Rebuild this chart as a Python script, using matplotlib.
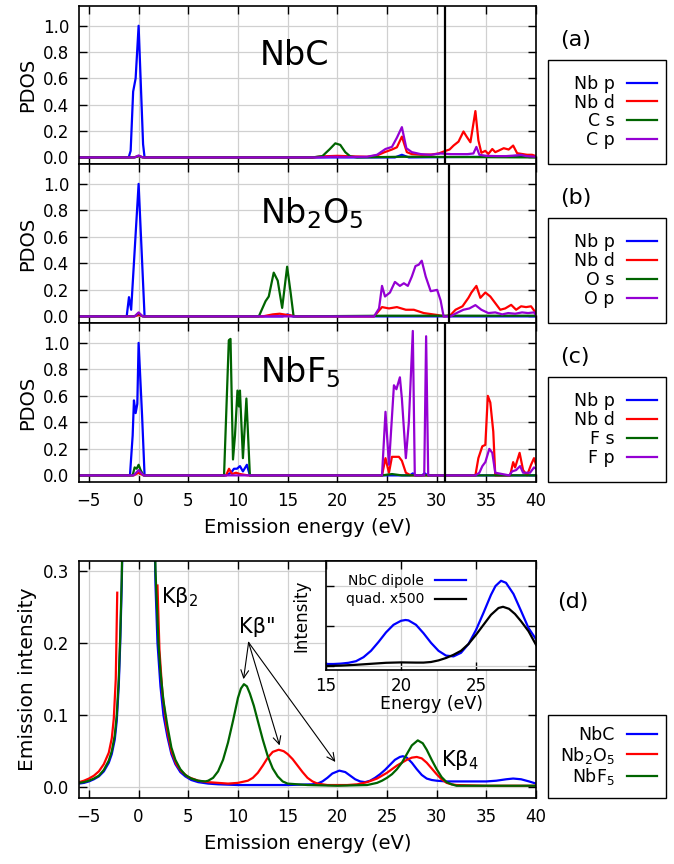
import matplotlib
matplotlib.use("Agg")
import matplotlib.pyplot as plt
from matplotlib.patches import Rectangle
import numpy as np

W, H = 674, 864

energy_ticks = [-5, 0, 5, 10, 15, 20, 25, 30, 35, 40]
pdos_ticks = [0.0, 0.2, 0.4, 0.6, 0.8, 1.0]
emission_ticks = [0.0, 0.1, 0.2, 0.3]
inset_xticks = [15, 20, 25]
inset_yticks = [0, 1, 2]

# (a) NbC
nbc_nbp_e = [-6, -1.0, -0.8, -0.55, -0.3, 0.0, 0.2, 0.45, 0.6, 25.8, 26.5, 27.2, 35, 36, 37, 38, 39, 40]
nbc_nbp = [0, 0, 0.05, 0.5, 0.6, 1.0, 0.6, 0.1, 0, 0, 0.02, 0, 0.005, 0.01, 0.005, 0.012, 0.008, 0.005]
nbc_nbd_e = [-6, -0.5, 0, 0.5, 17.5, 18.5, 20, 21.5, 23, 24, 24.7, 25.5, 26.0, 26.5, 27.0, 27.5, 28.5, 29.5,
             30.2, 30.9, 31.3, 31.7, 32.2, 32.7, 33.0, 33.4, 33.9, 34.2, 34.5, 34.9, 35.2, 35.6, 35.9, 36.2,
             36.75, 37.25, 37.7, 38.1, 38.6, 39.1, 39.6, 40]
nbc_nbd = [0, 0, 0.01, 0, 0, 0.008, 0.012, 0.008, 0.005, 0.015, 0.038, 0.06, 0.077, 0.158, 0.04, 0.025, 0.02, 0.022,
           0.03, 0.05, 0.06, 0.09, 0.12, 0.197, 0.16, 0.115, 0.352, 0.13, 0.035, 0.05, 0.026, 0.064, 0.04, 0.05,
           0.07, 0.06, 0.09, 0.032, 0.026, 0.02, 0.02, 0.01]
nbc_cs_e = [-6, -0.4, 0, 0.4, 17.5, 18.5, 19.2, 19.8, 20.3, 20.8, 21.3, 22, 26.5, 40]
nbc_cs = [0, 0, 0.01, 0, 0, 0.01, 0.06, 0.107, 0.095, 0.04, 0.008, 0, 0.005, 0]
nbc_cp_e = [-6, -0.4, 0, 0.4, 18, 19.5, 21, 23, 24, 24.85, 25.5, 26.0, 26.5, 26.95, 27.5, 28.4, 29.4, 30.4,
            31.4, 33.1, 33.7, 34.0, 34.3, 35, 36, 37, 38, 38.5, 39, 40]
nbc_cp = [0, 0, 0.015, 0, 0, 0.005, 0.003, 0.005, 0.02, 0.064, 0.08, 0.15, 0.23, 0.07, 0.04, 0.025, 0.02, 0.03,
          0.025, 0.025, 0.03, 0.08, 0.02, 0.012, 0.01, 0.01, 0.015, 0.02, 0.01, 0.005]

# (b) Nb2O5
nbo_nbp_e = [-6, -1.2, -0.97, -0.75, 0, 0.6, 14.5, 15, 15.5, 40]
nbo_nbp = [0, 0, 0.145, 0.05, 1.0, 0, 0, 0.015, 0, 0]
nbo_nbd_e = [-6, -0.5, 0, 0.5, 12.5, 13.5, 14.2, 15, 16, 23.7, 24.5, 25.2, 26.0, 26.9, 27.7, 28.7, 30.1, 30.8,
             31.4, 31.9, 32.6, 33.2, 33.5, 34.0, 34.4, 34.9, 35.4, 35.9, 36.4, 36.9, 37.5, 38.0, 38.5, 39.0,
             39.5, 40]
nbo_nbd = [0, 0, 0.01, 0, 0, 0.015, 0.02, 0.01, 0, 0, 0.07, 0.06, 0.07, 0.05, 0.05, 0.025, 0.01, 0,
           0.01, 0.05, 0.076, 0.14, 0.18, 0.23, 0.14, 0.18, 0.15, 0.1, 0.05, 0.06, 0.087, 0.05, 0.076, 0.07,
           0.076, 0.025]
nbo_os_e = [-6, -0.4, 0, 0.4, 12.1, 12.78, 13.1, 13.6, 14.0, 14.45, 14.95, 15.3, 15.6, 25, 40]
nbo_os = [0, 0, 0.025, 0, 0, 0.115, 0.15, 0.33, 0.27, 0.064, 0.375, 0.18, 0, 0.005, 0.005]
nbo_op_e = [-6, -0.4, 0, 0.4, 23.7, 24.2, 24.5, 24.8, 25.3, 25.8, 26.3, 26.7, 27.1, 27.5, 27.87, 28.2, 28.5,
            28.9, 29.4, 30.05, 30.4, 30.7, 31.4, 32.0, 32.7, 33.3, 33.9, 34.5, 35.2, 35.9, 36.6, 37.2, 37.9,
            38.6, 39.2, 39.8, 40]
nbo_op = [0, 0, 0.03, 0, 0, 0.06, 0.23, 0.15, 0.18, 0.26, 0.23, 0.25, 0.23, 0.3, 0.38, 0.39, 0.42,
          0.3, 0.19, 0.2, 0.12, 0, 0, 0.025, 0.05, 0.06, 0.085, 0.05, 0.025, 0.03, 0.015, 0.025, 0.02,
          0.03, 0.025, 0.03, 0.01]

# (c) NbF5
nbf_nbp_e = [-6, -0.87, -0.6, -0.47, -0.3, -0.13, 0, 0.35, 0.6, 8.8, 9.3, 9.6, 9.9, 10.2, 10.5, 10.9, 11.2,
             27.3, 27.6, 27.9, 28.5, 28.8, 29.1, 40]
nbf_nbp = [0, 0, 0.3, 0.566, 0.47, 0.54, 1.0, 0.45, 0, 0, 0.02, 0.05, 0.05, 0.07, 0.03, 0.08, 0,
           0, 0.015, 0, 0, 0.015, 0, 0]
nbf_nbd_e = [-6, -0.5, 0, 0.5, 8.8, 9.1, 9.4, 9.8, 10.2, 11, 24.5, 24.85, 25.2, 25.5, 26.2, 26.5, 26.9, 27.4,
             33.9, 34.2, 34.6, 34.9, 35.15, 35.4, 35.7, 35.9, 37.4, 37.7, 37.9, 38.35, 38.7, 39.1, 39.5,
             39.8, 40]
nbf_nbd = [0, 0, 0.02, 0, 0, 0.05, 0.01, 0.02, 0.01, 0, 0, 0.13, 0.02, 0.14, 0.14, 0.11, 0.02, 0,
           0, 0.13, 0.22, 0.23, 0.6, 0.55, 0.33, 0, 0, 0.1, 0.06, 0.17, 0.04, 0, 0.08, 0.13, 0.08]
nbf_fs_e = [-6, -0.6, -0.4, -0.2, 0, 0.2, 0.5, 8.6, 9.08, 9.25, 9.5, 9.7, 9.95, 10.1, 10.2, 10.5, 10.85, 11.2,
            24.5, 25.5, 26.5, 40]
nbf_fs = [0, 0, 0.06, 0.05, 0.08, 0.04, 0, 0, 1.02, 1.03, 0.12, 0.3, 0.64, 0.52, 0.64, 0.13, 0.58, 0,
          0, 0.01, 0, 0]
nbf_fp_e = [-6, -0.5, 0, 0.5, 24.5, 24.85, 25.2, 25.7, 25.95, 26.3, 26.5, 26.9, 27.2, 27.6, 27.8, 28.75,
            28.94, 29.15, 29.4, 33.9, 34.3, 34.6, 34.9, 35.3, 35.6, 35.9, 37.3, 37.6, 38.0, 38.4, 38.7, 39.4,
            39.8, 40]
nbf_fp = [0, 0, 0.04, 0, 0, 0.48, 0.08, 0.68, 0.65, 0.74, 0.58, 0.13, 0.40, 1.09, 0, 0,
          1.05, 0, 0, 0, 0.02, 0.07, 0.1, 0.2, 0.17, 0.02, 0, 0.03, 0.04, 0.07, 0.02, 0.02,
          0.06, 0.05]

fermi_levels = [30.8, 31.2, 30.85]

# (d) emission spectra
spec_nbc_e = [-6, -5.5, -5, -4.5, -4, -3.5, -3, -2.7, -2.4, -2.2, -2.0, -1.85, -1.7, -1.5, 0, 1.5, 1.7, 1.9,
              2.2, 2.5, 2.9, 3.3, 3.7, 4.2, 4.7, 5.3, 6, 7, 8, 10, 12, 15, 17.5, 18, 18.5, 19, 19.5, 20.2,
              20.8, 21.3, 21.8, 22.3, 22.8, 23.3, 23.8, 24.3, 24.8, 25.3, 25.8, 26.3, 26.6, 27, 27.5, 28,
              28.5, 29, 29.5, 30, 31, 33, 35, 36, 37, 37.7, 38.5, 39.3, 40]
spec_nbc = [0.005, 0.006, 0.008, 0.011, 0.015, 0.022, 0.034, 0.046, 0.066, 0.092, 0.14, 0.2, 0.28, 0.43, 1.0,
            0.43, 0.28, 0.2, 0.14, 0.1, 0.07, 0.046, 0.032, 0.021, 0.015, 0.01, 0.007, 0.005, 0.004, 0.003,
            0.003, 0.003, 0.004, 0.005, 0.008, 0.013, 0.019, 0.023, 0.021, 0.016, 0.011, 0.008, 0.007, 0.009,
            0.013, 0.018, 0.024, 0.031, 0.038, 0.042, 0.043, 0.041, 0.034, 0.025, 0.017, 0.012, 0.01, 0.009,
            0.008, 0.008, 0.008, 0.009, 0.011, 0.012, 0.011, 0.008, 0.005]
spec_nbo_e = [-6, -5.5, -5, -4.5, -4, -3.5, -3, -2.7, -2.5, -2.3, -2.15, np.nan, 1.9, 2.1, 2.4, 2.8, 3.3,
              3.8, 4.3, 5, 6, 7, 8, 9, 10, 11, 11.5, 12, 12.5, 13, 13.5, 14.1, 14.6, 15, 15.5, 16, 16.5,
              17, 17.5, 18, 19, 21, 22, 23, 24, 25, 25.5, 26, 26.5, 27, 27.5, 28, 28.5, 29, 29.5, 30,
              30.5, 31, 31.5, 32, 35, 40]
spec_nbo = [0.007, 0.009, 0.012, 0.016, 0.022, 0.032, 0.048, 0.068, 0.095, 0.15, 0.27, np.nan, 0.28, 0.19,
            0.13, 0.085, 0.05, 0.032, 0.022, 0.014, 0.009, 0.007, 0.006, 0.005, 0.006, 0.009, 0.013, 0.02,
            0.03, 0.041, 0.049, 0.052, 0.05, 0.046, 0.039, 0.03, 0.021, 0.013, 0.008, 0.005, 0.003, 0.003,
            0.004, 0.007, 0.012, 0.02, 0.025, 0.03, 0.034, 0.038, 0.041, 0.042, 0.04, 0.034, 0.026, 0.018,
            0.011, 0.006, 0.004, 0.003, 0.002, 0.002]
spec_nbf_e = [-6, -5.5, -5, -4.5, -4, -3.5, -3, -2.7, -2.4, -2.2, -2.0, -1.85, -1.7, -1.5, 0, 1.5, 1.7, 2.0,
              2.2, 2.5, 2.9, 3.3, 3.7, 4.2, 4.7, 5.3, 6, 6.7, 7, 7.5, 8, 8.5, 9, 9.5, 10, 10.3, 10.6, 10.9,
              11.2, 11.6, 12, 12.5, 13, 13.5, 14, 14.5, 15, 17, 20, 23, 24, 24.5, 25, 25.5, 26, 26.5, 27,
              27.5, 28.1, 28.6, 29, 29.5, 30, 30.5, 31, 31.5, 32, 40]
spec_nbf = [0.006, 0.007, 0.009, 0.012, 0.016, 0.024, 0.037, 0.05, 0.072, 0.1, 0.15, 0.21, 0.29, 0.45, 1.0,
            0.45, 0.3, 0.2, 0.16, 0.12, 0.085, 0.055, 0.038, 0.025, 0.017, 0.012, 0.009, 0.008, 0.009, 0.013,
            0.022, 0.038, 0.062, 0.092, 0.124, 0.137, 0.143, 0.14, 0.13, 0.113, 0.092, 0.066, 0.043, 0.026,
            0.015, 0.008, 0.005, 0.003, 0.002, 0.003, 0.006, 0.009, 0.013, 0.018, 0.025, 0.034, 0.046,
            0.058, 0.065, 0.061, 0.052, 0.038, 0.025, 0.014, 0.007, 0.004, 0.002, 0.002]

# inset: NbC dipole vs quadrupole
dip_e = [15, 15.5, 16, 16.5, 17, 17.5, 18, 18.5, 19, 19.5, 20, 20.3, 20.5, 21, 21.5, 22, 22.5, 23, 23.5, 24,
         24.5, 25, 25.5, 26, 26.3, 26.67, 27, 27.5, 28, 28.5, 29]
dip = [0.05, 0.05, 0.06, 0.08, 0.12, 0.22, 0.38, 0.6, 0.84, 1.03, 1.13, 1.15, 1.14, 1.03, 0.82, 0.58, 0.38,
       0.26, 0.24, 0.33, 0.55, 0.9, 1.33, 1.78, 2.0, 2.13, 2.08, 1.8, 1.38, 0.95, 0.67]
quad_e = [15, 16, 17, 18, 19, 20, 21, 21.5, 22, 22.5, 23, 23.5, 24, 24.5, 25, 25.5, 26, 26.5, 26.8, 27.2,
          27.6, 28, 28.5, 29]
quad = [0.0, 0.01, 0.03, 0.055, 0.08, 0.09, 0.085, 0.085, 0.1, 0.14, 0.2, 0.28, 0.38, 0.55, 0.78, 1.03,
        1.28, 1.45, 1.48, 1.43, 1.3, 1.12, 0.87, 0.53]

BLUE, RED, GREEN, PURPLE = '#0000ff', '#ff0000', '#006400', '#9400d3'


def fx(px):
	return px / W


def fy(py):
	return 1 - py / H


def px_axes(fig, left, top, right, bottom):
	return fig.add_axes([fx(left), fy(bottom), (right - left) / W, (bottom - top) / H])


def style(ax):
	ax.tick_params(direction='in', length=6, width=1, top=True, right=True, labelsize=12, pad=7)
	ax.grid(True, color='#d0d0d0', lw=0.9)
	ax.set_axisbelow(True)
	for s in ax.spines.values():
		s.set_linewidth(1.2)


def legend_box(fig, ax, top, bottom, fontsize=12.5):
	fig.patches.append(Rectangle((fx(548), fy(bottom)), (666 - 548) / W, (bottom - top) / H,
	                             transform=fig.transFigure, fill=False, lw=1, ec='black'))
	ax.legend(loc='center right', bbox_to_anchor=(fx(657), fy((top + bottom) / 2)),
	          bbox_transform=fig.transFigure, frameon=False, markerfirst=False, borderpad=0,
	          borderaxespad=0, handlelength=1.75, handletextpad=0.7, labelspacing=0.05, fontsize=fontsize)


def pdos_panel(fig, top, bottom, curves, labels, name, tag, fermi, show_x):
	ax = px_axes(fig, 79, top, 536, bottom)
	style(ax)
	colors = [BLUE, RED, GREEN, PURPLE]
	for (e, v), lab, c in zip(curves, labels, colors):
		ax.plot(e, v, color=c, lw=1.6, label=lab)
	ax.axvline(fermi, color='black', lw=1.6)
	ax.set_xlim(-6, 40)
	ax.set_ylim(-0.05, 1.15)
	ax.set_xticks(energy_ticks)
	ax.set_yticks(pdos_ticks)
	ax.set_yticklabels(['%.1f' % t for t in pdos_ticks])
	if not show_x:
		ax.set_xticklabels([])
	ax.set_ylabel('PDOS', fontsize=14, labelpad=4)
	legend_box(fig, ax, top + 54, bottom)
	fig.text(fx(260), fy(top + 59), name, fontsize=24, va='baseline')
	fig.text(fx(560), fy(top + 34), tag, fontsize=16, va='center')
	return ax


if __name__ == "__main__":
	fig = plt.figure(figsize=(W / 100, H / 100), dpi=100)

	pdos_panel(fig, 6, 164, [(nbc_nbp_e, nbc_nbp), (nbc_nbd_e, nbc_nbd), (nbc_cs_e, nbc_cs), (nbc_cp_e, nbc_cp)],
	           ['Nb p', 'Nb d', 'C s', 'C p'], 'NbC', '(a)', fermi_levels[0], False)
	pdos_panel(fig, 164, 323, [(nbo_nbp_e, nbo_nbp), (nbo_nbd_e, nbo_nbd), (nbo_os_e, nbo_os), (nbo_op_e, nbo_op)],
	           ['Nb p', 'Nb d', 'O s', 'O p'], 'Nb$_2$O$_5$', '(b)', fermi_levels[1], False)
	ax_c = pdos_panel(fig, 323, 482, [(nbf_nbp_e, nbf_nbp), (nbf_nbd_e, nbf_nbd), (nbf_fs_e, nbf_fs), (nbf_fp_e, nbf_fp)],
	                  ['Nb p', 'Nb d', 'F s', 'F p'], 'NbF$_5$', '(c)', fermi_levels[2], True)
	ax_c.set_xlabel('Emission energy (eV)', fontsize=14, labelpad=6)

	# (d)
	ax = px_axes(fig, 79, 561, 536, 798)
	style(ax)
	ax.plot(spec_nbc_e, spec_nbc, color=BLUE, lw=1.6, label='NbC')
	ax.plot(spec_nbo_e, spec_nbo, color=RED, lw=1.6, label='Nb$_2$O$_5$')
	ax.plot(spec_nbf_e, spec_nbf, color=GREEN, lw=1.6, label='NbF$_5$')
	ax.set_xlim(-6, 40)
	ax.set_ylim(-0.015, 0.314)
	ax.set_xticks(energy_ticks)
	ax.set_yticks(emission_ticks)
	ax.set_yticklabels(['%.1f' % t for t in emission_ticks])
	ax.set_xlabel('Emission energy (eV)', fontsize=14, labelpad=6)
	ax.set_ylabel('Emission intensity', fontsize=14.5, labelpad=4)
	legend_box(fig, ax, 715, 798)
	fig.text(fx(557), fy(602), '(d)', fontsize=16, va='center')

	ax.text(2.3, 0.264, 'Kβ$_2$', fontsize=15, va='center')
	ax.text(11.9, 0.222, 'Kβ"', fontsize=15, ha='center', va='center')
	ax.text(30.4, 0.0375, 'Kβ$_4$', fontsize=15, va='center')
	for tx, ty in [(10.56, 0.150), (14.19, 0.058), (19.8, 0.035)]:
		ax.annotate('', xy=(tx, ty), xytext=(11.07, 0.201),
		            arrowprops=dict(arrowstyle='->', lw=0.8, color='black', mutation_scale=14,
		                            shrinkA=0, shrinkB=0))

	# inset
	ins = px_axes(fig, 326, 561, 536, 670)
	ins.set_zorder(5)
	style(ins)
	ins.plot(dip_e, dip, color=BLUE, lw=1.6, label='NbC dipole')
	ins.plot(quad_e, quad, color='black', lw=1.6, label='quad. x500')
	ins.set_xlim(15, 29)
	ins.set_ylim(-0.1, 2.625)
	ins.set_xticks(inset_xticks)
	ins.set_yticks(inset_yticks)
	ins.set_yticklabels([])
	ins.tick_params(labelsize=12, pad=5)
	ins.set_xlabel('Energy (eV)', fontsize=12.5, labelpad=0)
	ins.set_ylabel('Intensity', fontsize=12, labelpad=6)
	ins.legend(loc='center right', bbox_to_anchor=(fx(466), fy(590)), bbox_transform=fig.transFigure,
	           frameon=False, markerfirst=False, borderpad=0, borderaxespad=0, handlelength=2.2,
	           handletextpad=0.8, labelspacing=0.35, fontsize=10)

	fig.savefig('out.png', dpi=100)
